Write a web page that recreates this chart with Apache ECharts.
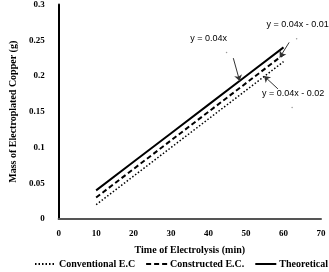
<!DOCTYPE html>
<html>
<head>
<meta charset="utf-8">
<script src="https://cdn.jsdelivr.net/npm/echarts@6/dist/echarts.min.js"></script>
<style>html,body{margin:0;padding:0;background:#fff}#main{width:329px;height:272px}</style>
</head>
<body>
<div id="main"></div>
<script>
// data
var times = [10, 20, 30, 40, 50, 60];
var conventional = [0.02, 0.06, 0.10, 0.14, 0.18, 0.22];
var constructed = [0.03, 0.07, 0.11, 0.15, 0.19, 0.23];
var theoretical = [0.04, 0.08, 0.12, 0.16, 0.20, 0.24];
// equation labels: text, anchor dot, arrow tail, arrow head
var eqNames = ['y = 0.04x', 'y = 0.04x - 0.01', 'y = 0.04x - 0.02'];
var eqDot = [[44.8, 0.233], [63.5, 0.252], [62.3, 0.156]];
var eqTail = [[46.6, 0.225], [61.5, 0.247], [58.5, 0.182]];
var eqHead = [[48.3, 0.193], [59.0, 0.226], [54.8, 0.200]];
var eqOffset = [[-18, 0], [1, 0], [1, 0]];

function pairs(xs, ys) {
    var out = [];
    for (var i = 0; i < xs.length; i++) out.push([xs[i], ys[i]]);
    return out;
}

var serif = '"Liberation Serif", "DejaVu Serif", serif';
var chart = echarts.init(document.getElementById('main'));

var arrowLines = [];
var dotPoints = [];
for (var k = 0; k < eqNames.length; k++) {
    arrowLines.push([{coord: eqTail[k]}, {coord: eqHead[k]}]);
    dotPoints.push({
        coord: eqDot[k],
        label: {formatter: eqNames[k], offset: eqOffset[k]}
    });
}

var option = {
    animation: false,
    backgroundColor: '#fff',
    grid: {left: 40, right: 8, top: 0, bottom: 53},
    legend: {
        bottom: 3,
        left: 34,
        width: 295,
        padding: 0,
        itemWidth: 21,
        itemHeight: 8,
        itemGap: 10,
        itemStyle: {opacity: 0},
        textStyle: {fontFamily: serif, fontWeight: 'bold', fontSize: 10, color: '#000', padding: [0, 0, 0, -2]},
        data: ['Conventional E.C', 'Constructed E.C.', 'Theoretical']
    },
    xAxis: {
        type: 'value',
        min: 0, max: 70, interval: 10,
        name: 'Time of Electrolysis (min)',
        nameLocation: 'middle',
        nameGap: 26,
        nameTextStyle: {fontFamily: serif, fontWeight: 'bold', fontSize: 10, color: '#000'},
        axisLine: {lineStyle: {color: '#555', width: 2}},
        axisTick: {show: false},
        splitLine: {show: false},
        axisLabel: {fontFamily: serif, fontWeight: 'bold', fontSize: 9, color: '#000', margin: 10}
    },
    yAxis: {
        type: 'value',
        min: 0, max: 0.3, interval: 0.05,
        name: 'Mass of Electroplated Copper (g)',
        nameLocation: 'middle',
        nameGap: 31,
        nameTextStyle: {fontFamily: serif, fontWeight: 'bold', fontSize: 10, color: '#000'},
        axisLine: {show: true, lineStyle: {color: '#000', width: 2}},
        axisTick: {show: false},
        splitLine: {show: false},
        axisLabel: {fontFamily: serif, fontWeight: 'bold', fontSize: 9, color: '#000', margin: 14}
    },
    series: [
        {
            name: 'Conventional E.C',
            type: 'line',
            symbol: 'none',
            data: pairs(times, conventional),
            lineStyle: {color: '#000', width: 1.5, type: [1.5, 2]},
            itemStyle: {color: '#000'}
        },
        {
            name: 'Constructed E.C.',
            type: 'line',
            symbol: 'none',
            data: pairs(times, constructed),
            lineStyle: {color: '#000', width: 2, type: [5, 3]},
            itemStyle: {color: '#000'}
        },
        {
            name: 'Theoretical',
            type: 'line',
            symbol: 'none',
            data: pairs(times, theoretical),
            lineStyle: {color: '#000', width: 2},
            itemStyle: {color: '#000'},
            markLine: {
                silent: true,
                symbol: ['none', 'arrow'],
                symbolSize: 6,
                label: {show: false},
                lineStyle: {color: '#333', width: 1, type: 'solid'},
                data: arrowLines
            },
            markPoint: {
                silent: true,
                symbol: 'circle',
                symbolSize: 1.5,
                itemStyle: {color: '#999'},
                label: {
                    show: true,
                    position: 'top',
                    distance: 9,
                    fontFamily: '"Liberation Sans", Arial, sans-serif',
                    fontSize: 9,
                    color: '#000'
                },
                data: dotPoints
            }
        }
    ]
};
chart.setOption(option);
</script>
</body>
</html>
